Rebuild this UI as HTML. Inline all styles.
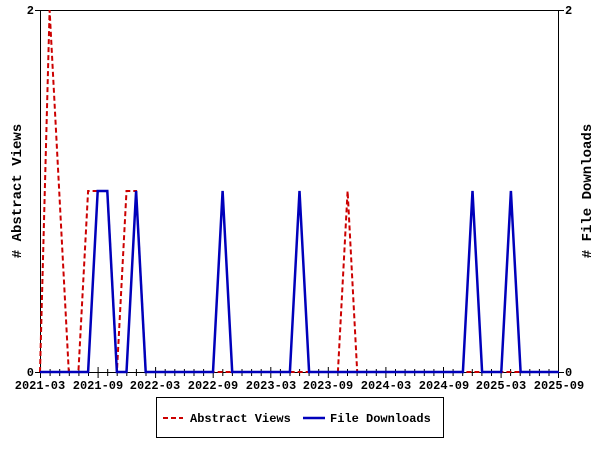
<!DOCTYPE html>
<html><head><meta charset="utf-8"><style>body{margin:0;background:#fff}svg{display:block}text{font-family:"Liberation Mono",monospace;font-weight:bold;fill:#000}</style></head><body>
<svg width="600" height="450" viewBox="0 0 600 450" xmlns="http://www.w3.org/2000/svg">
<rect width="600" height="450" fill="#fff"/>
<g stroke="#000" stroke-width="1" fill="none">
<rect x="40.5" y="10.5" width="518" height="362"/>
<line x1="35" y1="10.5" x2="40" y2="10.5"/><line x1="35" y1="372.5" x2="40" y2="372.5"/>
<line x1="559" y1="10.5" x2="564" y2="10.5"/><line x1="559" y1="372.5" x2="564" y2="372.5"/>
<path d="M40.5 367V378M50.1 369V376M59.7 369V376M69.3 369V376M78.9 369V376M88.5 369V376M98.1 367V378M107.7 369V376M117.2 369V376M126.8 369V376M136.4 369V376M146 369V376M155.6 367V378M165.2 369V376M174.8 369V376M184.4 369V376M194 369V376M203.6 369V376M213.2 367V378M222.8 369V376M232.4 369V376M242 369V376M251.6 369V376M261.2 369V376M270.8 367V378M280.4 369V376M290 369V376M299.6 369V376M309.1 369V376M318.7 369V376M328.3 367V378M337.9 369V376M347.5 369V376M357.1 369V376M366.7 369V376M376.3 369V376M385.9 367V378M395.5 369V376M405.1 369V376M414.7 369V376M424.3 369V376M433.9 369V376M443.5 367V378M453.1 369V376M462.7 369V376M472.3 369V376M481.9 369V376M491.5 369V376M501.1 367V378M510.6 369V376M520.2 369V376M529.8 369V376M539.4 369V376M549 369V376M558.5 367V378"/>
</g>
<g font-size="12">
<text x="34" y="14" text-anchor="end">2</text>
<text x="34" y="376" text-anchor="end">0</text>
<text x="565" y="14">2</text>
<text x="565" y="376">0</text>
<text x="40" y="389" text-anchor="middle">2021-03</text>
<text x="98" y="389" text-anchor="middle">2021-09</text>
<text x="155" y="389" text-anchor="middle">2022-03</text>
<text x="213" y="389" text-anchor="middle">2022-09</text>
<text x="271" y="389" text-anchor="middle">2023-03</text>
<text x="328" y="389" text-anchor="middle">2023-09</text>
<text x="386" y="389" text-anchor="middle">2024-03</text>
<text x="444" y="389" text-anchor="middle">2024-09</text>
<text x="501" y="389" text-anchor="middle">2025-03</text>
<text x="559" y="389" text-anchor="middle">2025-09</text>
</g>
<text font-size="14" transform="translate(21,191) rotate(-90)" text-anchor="middle"># Abstract Views</text>
<text font-size="14" transform="translate(591,191) rotate(-90)" text-anchor="middle"># File Downloads</text>
<polyline fill="none" stroke="#cc0000" stroke-width="2" stroke-dasharray="5,3" points="40,372 49.6,10 59.2,191 68.8,372 78.4,372 88.1,191 97.7,191 107.3,191 116.9,372 126.5,191 136.1,191 145.7,372 337.9,372 347.6,191 357.2,372 559,372"/>
<polyline fill="none" stroke="#0000bb" stroke-width="2.5" points="40,372 88.1,372 97.7,191 107.3,191 116.9,372 126.5,372 136.1,191 145.7,372 213,372 222.6,191 232.2,372 289.9,372 299.5,191 309.1,372 462.9,372 472.5,191 482.1,372 501.3,372 510.9,191 520.6,372 559,372"/>
<rect x="156.5" y="397.5" width="287" height="40" fill="none" stroke="#000"/>
<line x1="163" y1="418" x2="183" y2="418" stroke="#cc0000" stroke-width="2" stroke-dasharray="5,3"/>
<line x1="303" y1="418" x2="325" y2="418" stroke="#0000bb" stroke-width="2.5"/>
<g font-size="12"><text x="190" y="422">Abstract Views</text><text x="330" y="422">File Downloads</text></g>
</svg>
</body></html>
